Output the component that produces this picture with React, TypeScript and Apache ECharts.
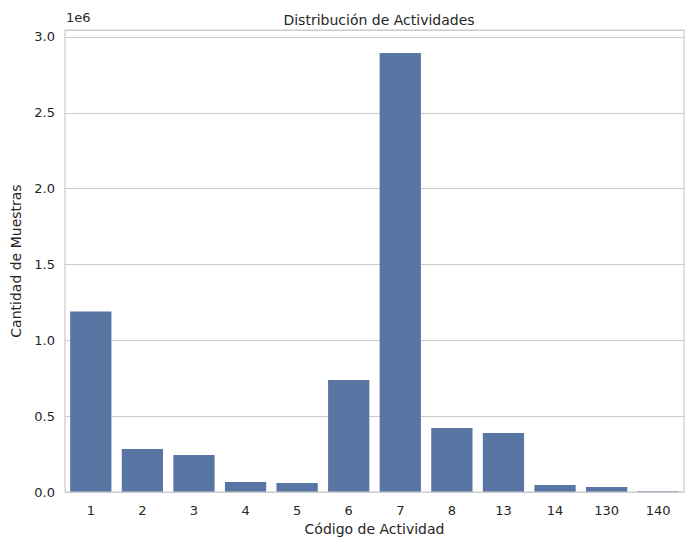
import React, { useEffect, useRef } from "react";
import * as echarts from "echarts";

const categories = ["1", "2", "3", "4", "5", "6", "7", "8", "13", "14", "130", "140"];
const counts = [1190000, 283000, 244000, 66000, 59000, 738000, 2894000, 422000, 389000, 46000, 33000, 5000];
const yTicks = [0, 500000, 1000000, 1500000, 2000000, 2500000, 3000000];

export default function App() {
  const ref = useRef<HTMLDivElement>(null);
  useEffect(() => {
    const chart = echarts.init(ref.current!, null, { renderer: "svg" });
    const font = "DejaVu Sans";
    chart.setOption({
      animation: false,
      backgroundColor: "#fff",
      textStyle: { fontFamily: font },
      title: {
        text: "Distribución de Actividades",
        left: 374, top: 8, textAlign: "center",
        textStyle: { fontSize: 14, fontWeight: "normal", color: "#262626", fontFamily: font },
      },
      graphic: [
        { type: "rect", shape: { x: 65, y: 30, width: 619, height: 462 }, style: { fill: "none", stroke: "#cccccc", lineWidth: 1.2 }, z: 10 },
        { type: "text", left: 66, top: 11, style: { text: "1e6", fontSize: 13, fill: "#262626", fontFamily: font } },
      ],
      grid: { left: 65, right: 11, top: 30, bottom: 58 },
      xAxis: {
        type: "category",
        data: categories,
        name: "Código de Actividad",
        nameLocation: "middle",
        nameGap: 30,
        nameTextStyle: { fontSize: 14, color: "#262626", fontFamily: font },
        axisLine: { show: false },
        axisTick: { show: false },
        axisLabel: { fontSize: 13, color: "#262626", margin: 12, fontFamily: font },
      },
      yAxis: {
        type: "value",
        min: 0,
        max: 3046000,
        interval: 500000,
        name: "Cantidad de Muestras",
        nameLocation: "middle",
        nameGap: 42,
        nameTextStyle: { fontSize: 14, color: "#262626", fontFamily: font },
        axisLine: { show: false },
        axisTick: { show: false },
        axisLabel: {
          fontSize: 13, color: "#262626", margin: 10, fontFamily: font,
          showMaxLabel: false,
          formatter: (v: number) => (yTicks.includes(v) ? (v / 1e6).toFixed(1) : ""),
        },
        splitLine: { lineStyle: { color: "#cccccc", width: 1.2 } },
      },
      series: [
        {
          type: "bar",
          data: counts,
          barCategoryGap: "20%",
          itemStyle: { color: "#5975a4" },
        },
      ],
    });
    return () => chart.dispose();
  }, []);
  return <div ref={ref} style={{ position: "fixed", left: 0, top: 0, width: 695, height: 550 }} />;
}
